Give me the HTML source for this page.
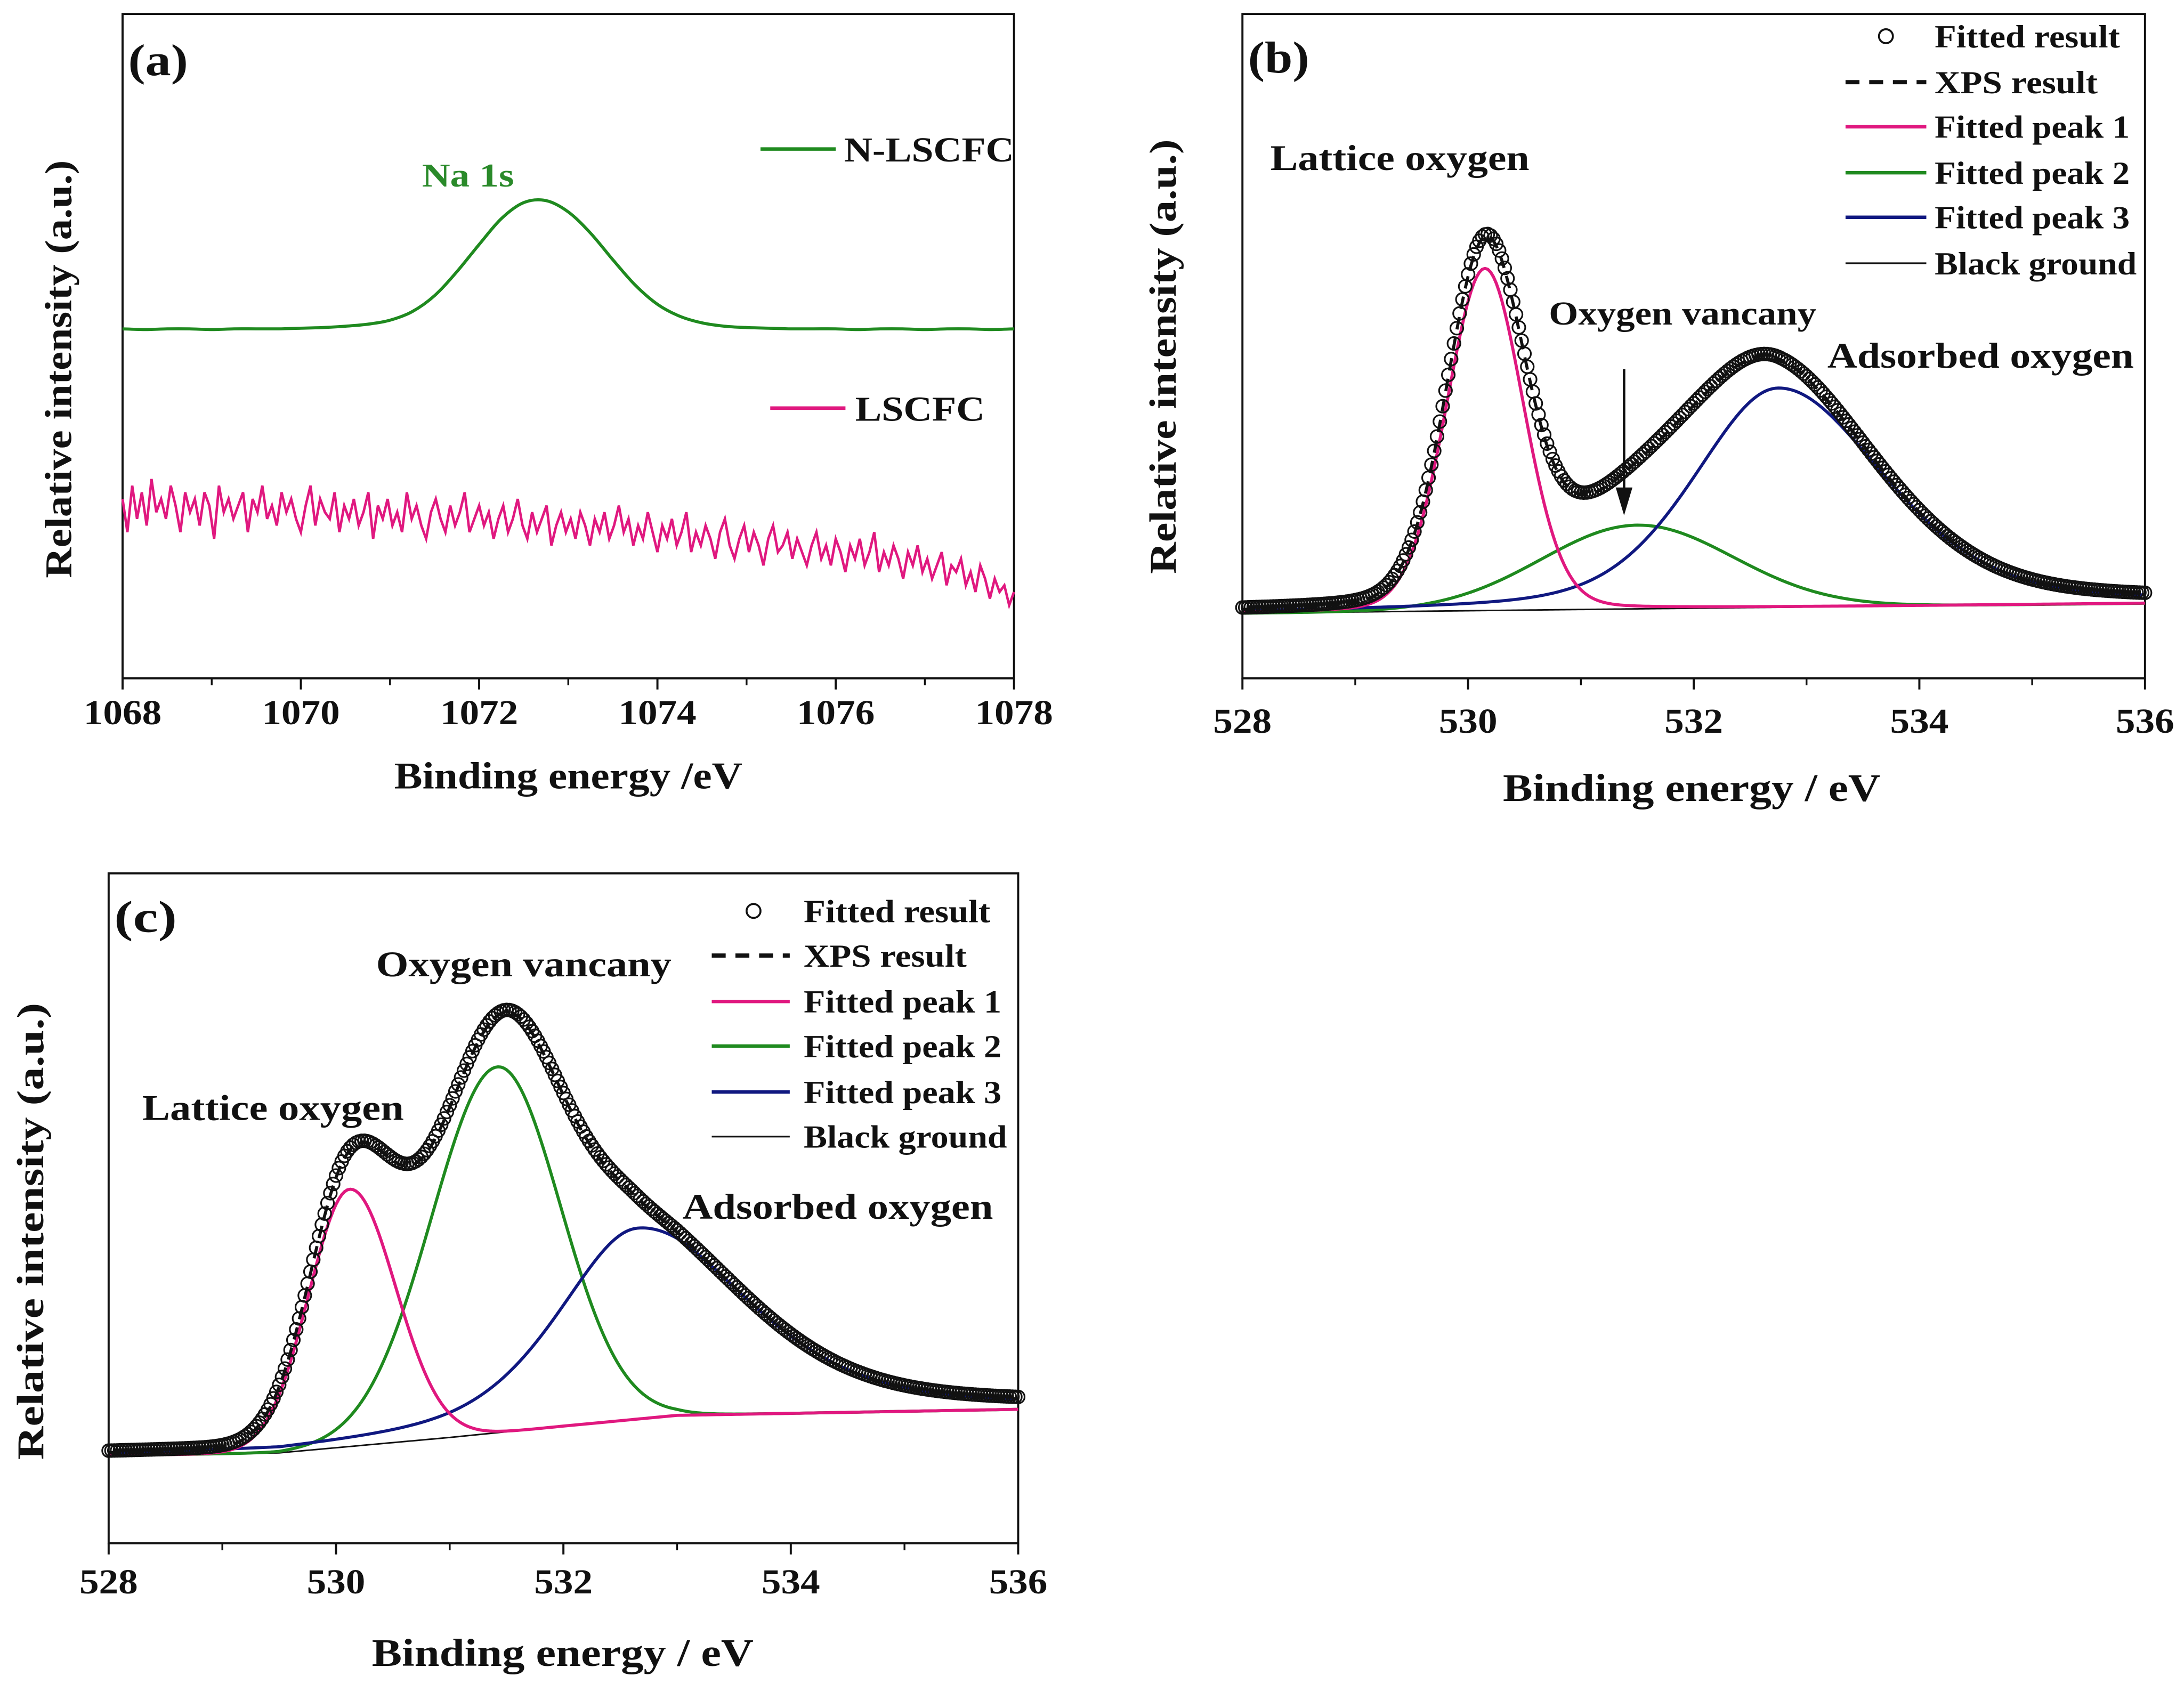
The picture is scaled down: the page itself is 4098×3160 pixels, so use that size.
<!DOCTYPE html>
<html><head><meta charset="utf-8"><style>
html,body{margin:0;padding:0;background:#fff;}
svg{display:block;}
text{font-family:"Liberation Serif",serif;font-weight:bold;fill:#111;}
</style></head><body>
<svg id="fig" width="4098" height="3160" viewBox="0 0 1568 1209" preserveAspectRatio="none">
<rect x="0" y="0" width="1568" height="1209" fill="#fff"/>
<!-- Panel a -->
<g>
<rect x="88" y="10" width="640" height="477" fill="none" stroke="#111" stroke-width="1.5"/>
<text x="92" y="54" font-size="32" textLength="43" lengthAdjust="spacingAndGlyphs">(a)</text>
<text x="303" y="134" font-size="24" textLength="66" lengthAdjust="spacingAndGlyphs" style="fill:#2a8a2a">Na 1s</text>
<line x1="546" y1="107" x2="600" y2="107" stroke="#1f8a1f" stroke-width="2.5"/>
<text x="606" y="116" font-size="25" textLength="122" lengthAdjust="spacingAndGlyphs">N-LSCFC</text>
<line x1="553" y1="293" x2="607" y2="293" stroke="#e0187f" stroke-width="2.5"/>
<text x="614" y="302" font-size="25" textLength="93" lengthAdjust="spacingAndGlyphs">LSCFC</text>
<text x="283" y="566" font-size="27" textLength="250" lengthAdjust="spacingAndGlyphs">Binding energy /eV</text>
<text transform="translate(51,415) rotate(-90)" font-size="27" textLength="300" lengthAdjust="spacingAndGlyphs">Relative intensity (a.u.)</text>
<g id="plotA"></g>
</g>
<!-- Panel b -->
<g>
<rect x="892" y="10" width="648" height="477" fill="none" stroke="#111" stroke-width="1.5"/>
<text x="896" y="52" font-size="32" textLength="44" lengthAdjust="spacingAndGlyphs">(b)</text>
<text x="912" y="122" font-size="26" textLength="186" lengthAdjust="spacingAndGlyphs">Lattice oxygen</text>
<text x="1112" y="233" font-size="24" textLength="192" lengthAdjust="spacingAndGlyphs">Oxygen vancany</text>
<text x="1312" y="264" font-size="26" textLength="220" lengthAdjust="spacingAndGlyphs">Adsorbed oxygen</text>
<line x1="1166" y1="265" x2="1166" y2="352" stroke="#111" stroke-width="1.8"/>
<polygon points="1160,350 1172,350 1166,370" fill="#111"/>
<text x="1079" y="575" font-size="28" textLength="271" lengthAdjust="spacingAndGlyphs">Binding energy / eV</text>
<text transform="translate(844,412) rotate(-90)" font-size="27" textLength="312" lengthAdjust="spacingAndGlyphs">Relative intensity (a.u.)</text>
<g id="plotB"></g>
<g>
<circle cx="1354" cy="26" r="5" fill="#fff" stroke="#111" stroke-width="1.4"/>
<text x="1389" y="34" font-size="23" textLength="133" lengthAdjust="spacingAndGlyphs">Fitted result</text>
<line x1="1325" y1="59" x2="1383" y2="59" stroke="#111" stroke-width="3" stroke-dasharray="10,7"/>
<text x="1389" y="67" font-size="23" textLength="117" lengthAdjust="spacingAndGlyphs">XPS result</text>
<line x1="1325" y1="91" x2="1383" y2="91" stroke="#e0187f" stroke-width="2.5"/>
<text x="1389" y="99" font-size="23" textLength="140" lengthAdjust="spacingAndGlyphs">Fitted peak 1</text>
<line x1="1325" y1="124" x2="1383" y2="124" stroke="#1f8a1f" stroke-width="2.5"/>
<text x="1389" y="132" font-size="23" textLength="140" lengthAdjust="spacingAndGlyphs">Fitted peak 2</text>
<line x1="1325" y1="156" x2="1383" y2="156" stroke="#101880" stroke-width="2.5"/>
<text x="1389" y="164" font-size="23" textLength="140" lengthAdjust="spacingAndGlyphs">Fitted peak 3</text>
<line x1="1325" y1="189" x2="1383" y2="189" stroke="#111" stroke-width="1.2"/>
<text x="1389" y="197" font-size="23" textLength="145" lengthAdjust="spacingAndGlyphs">Black ground</text>
</g>
</g>
<!-- Panel c -->
<g>
<rect x="78" y="627" width="653" height="481" fill="none" stroke="#111" stroke-width="1.5"/>
<text x="82" y="669" font-size="32" textLength="45" lengthAdjust="spacingAndGlyphs">(c)</text>
<text x="270" y="701" font-size="26" textLength="212" lengthAdjust="spacingAndGlyphs">Oxygen vancany</text>
<text x="102" y="804" font-size="26" textLength="188" lengthAdjust="spacingAndGlyphs">Lattice oxygen</text>
<text x="490" y="875" font-size="26" textLength="223" lengthAdjust="spacingAndGlyphs">Adsorbed oxygen</text>
<text x="267" y="1196" font-size="28" textLength="274" lengthAdjust="spacingAndGlyphs">Binding energy / eV</text>
<text transform="translate(31,1048) rotate(-90)" font-size="27" textLength="328" lengthAdjust="spacingAndGlyphs">Relative intensity (a.u.)</text>
<g id="plotC"></g>
<g>
<circle cx="541" cy="654" r="5" fill="#fff" stroke="#111" stroke-width="1.4"/>
<text x="577" y="662" font-size="23" textLength="134" lengthAdjust="spacingAndGlyphs">Fitted result</text>
<line x1="511" y1="686" x2="567" y2="686" stroke="#111" stroke-width="3" stroke-dasharray="10,7"/>
<text x="577" y="694" font-size="23" textLength="117" lengthAdjust="spacingAndGlyphs">XPS result</text>
<line x1="511" y1="719" x2="567" y2="719" stroke="#e0187f" stroke-width="2.5"/>
<text x="577" y="727" font-size="23" textLength="142" lengthAdjust="spacingAndGlyphs">Fitted peak 1</text>
<line x1="511" y1="751" x2="567" y2="751" stroke="#1f8a1f" stroke-width="2.5"/>
<text x="577" y="759" font-size="23" textLength="142" lengthAdjust="spacingAndGlyphs">Fitted peak 2</text>
<line x1="511" y1="784" x2="567" y2="784" stroke="#101880" stroke-width="2.5"/>
<text x="577" y="792" font-size="23" textLength="142" lengthAdjust="spacingAndGlyphs">Fitted peak 3</text>
<line x1="511" y1="816" x2="567" y2="816" stroke="#111" stroke-width="1.2"/>
<text x="577" y="824" font-size="23" textLength="146" lengthAdjust="spacingAndGlyphs">Black ground</text>
</g>
</g>
</svg>
<script>
// ---- Panel a data ----
const aTicks = [1068, 1070, 1072, 1074, 1076, 1078];
const aGreen = [52.6,52.5,52.6,52.6,52.5,52.6,52.6,52.6,52.7,52.8,53.0,53.3,53.9,55.2,57.6,61.2,65.3,69.2,71.6,71.9,70.2,67.0,63.0,59.2,56.3,54.5,53.5,53.0,52.8,52.7,52.6,52.6,52.6,52.5,52.6,52.6,52.5,52.6,52.6,52.5,52.6];
const aPink = [27,22,29,24,28,23,30,25,27,24,29,26,22,28,25,27,23,28,26,21,29,25,27,24,26,28,22,27,25,29,24,26,23,28,25,27,24,22,26,29,23,27,25,24,28,22,26,24,27,23,25,28,21,26,24,27,23,25,22,28,24,26,23,21,25,27,24,22,26,23,25,28,22,24,26,23,25,21,24,26,22,24,27,23,21,25,22,24,26,20,23,25,22,24,21,25,23,20,24,22,25,21,23,26,22,24,20,23,21,25,22,19,23,21,24,20,22,25,19,22,20,23,21,18,22,24,20,18,21,23,19,22,20,17,21,23,19,20,22,18,21,19,17,20,22,18,20,17,21,19,16,20,18,21,17,19,22,16,19,17,20,18,15,19,17,20,16,18,15,17,19,14,17,16,18,14,16,13,17,15,12,15,13,14,11,13];
// ---- Panel b data ----
const bTicks = [528, 530, 532, 534, 536];
const bCenters = [530.15, 531.5, 532.75];
const bHeights = [51.5, 12.6, 33];
const bWidths = [0.34, 0.85, 0.75];
const bEta = [0.1, 0, 0.35];
const bAsym = [1.0, 1.0, 1.25];
const bBgX = [528, 536];
const bBgY = [9.8, 11.3];
// ---- Panel c data ----
const cTicks = [528, 530, 532, 534, 536];
const cCenters = [530.12, 531.42, 532.65];
const cHeights = [38.4, 54.6, 28.5];
const cWidths = [0.36, 0.58, 0.7];
const cEta = [0, 0, 0.5];
const cAsym = [1.12, 0.95, 1.4];
const cBgX = [528, 529.5, 531, 532, 533, 536];
const cBgY = [13.1, 13.5, 15.8, 17.5, 19.1, 20];

const NS = 'http://www.w3.org/2000/svg';
function mk(tag, attrs, parent) {
  const e = document.createElementNS(NS, tag);
  for (const k in attrs) e.setAttribute(k, attrs[k]);
  parent.appendChild(e);
  return e;
}
function scales(x0, x1, top, bot, xmin, xmax) {
  return {
    sx: v => x0 + (v - xmin) / (xmax - xmin) * (x1 - x0),
    sy: v => bot - v / 100 * (bot - top)
  };
}
function drawTicks(g, ticks, S, bot, labelY, prefix) {
  for (let i = 0; i < ticks.length; i++) {
    const x = S.sx(ticks[i]);
    const t = mk('line', {x1: x, y1: bot, x2: x, y2: bot + 8, stroke: '#111', 'stroke-width': 1.5}, g);
    
    
    const s = String(ticks[i]);
    const w = s.length * 14;
    const lb = mk('text', {x: x - w / 2, y: labelY, 'font-size': 25, textLength: w, lengthAdjust: 'spacingAndGlyphs'}, g);
    lb.textContent = s;
    
    
    if (i < ticks.length - 1) {
      const xm = S.sx((ticks[i] + ticks[i + 1]) / 2);
      const m = mk('line', {x1: xm, y1: bot, x2: xm, y2: bot + 5, stroke: '#111', 'stroke-width': 1.3}, g);
      
      
    }
  }
}
function pathFrom(xs, ys, S) {
  let d = '';
  for (let i = 0; i < xs.length; i++) d += (i ? 'L' : 'M') + S.sx(xs[i]).toFixed(2) + ',' + S.sy(ys[i]).toFixed(2);
  return d;
}
function smoothPath(xs, ys, S) {
  const P = xs.map((x, i) => [S.sx(x), S.sy(ys[i])]);
  let d = 'M' + P[0][0].toFixed(2) + ',' + P[0][1].toFixed(2);
  for (let i = 0; i < P.length - 1; i++) {
    const p0 = P[Math.max(0, i - 1)], p1 = P[i], p2 = P[i + 1], p3 = P[Math.min(P.length - 1, i + 2)];
    const c1 = [p1[0] + (p2[0] - p0[0]) / 6, p1[1] + (p2[1] - p0[1]) / 6];
    const c2 = [p2[0] - (p3[0] - p1[0]) / 6, p2[1] - (p3[1] - p1[1]) / 6];
    d += 'C' + c1[0].toFixed(2) + ',' + c1[1].toFixed(2) + ' ' + c2[0].toFixed(2) + ',' + c2[1].toFixed(2) + ' ' + p2[0].toFixed(2) + ',' + p2[1].toFixed(2);
  }
  return d;
}
function pv(x, c, h, s, eta, asym) {
  const sg = x > c ? s * asym : s;
  const d = x - c;
  const g = Math.exp(-d * d / (2 * sg * sg));
  const gam = sg * 1.1774;
  const l = 1 / (1 + (d / gam) * (d / gam));
  return h * ((1 - eta) * g + eta * l);
}
function interp(x, xs, ys) {
  if (x <= xs[0]) return ys[0];
  for (let i = 1; i < xs.length; i++) {
    if (x <= xs[i]) { const t = (x - xs[i - 1]) / (xs[i] - xs[i - 1]); return ys[i - 1] + t * (ys[i] - ys[i - 1]); }
  }
  return ys[ys.length - 1];
}

// ---- Panel a ----
(function () {
  const g = document.getElementById('plotA');
  const S = scales(88, 728, 10, 487, 1068, 1078);
  drawTicks(g, aTicks, S, 487, 520, 'panel-a-x');
  const gx = aGreen.map((v, i) => 1068 + i * 10 / (aGreen.length - 1));
  const gp = mk('path', {d: smoothPath(gx, aGreen, S), fill: 'none', stroke: '#1f8a1f', 'stroke-width': 2.2}, g);
  
  
  const px = aPink.map((v, i) => 1068 + i * 10 / (aPink.length - 1));
  const pp = mk('path', {d: pathFrom(px, aPink, S), fill: 'none', stroke: '#e0187f', 'stroke-width': 1.8}, g);
  
  
})();

function drawFit(gid, box, ticks, centers, heights, widths, eta, asym, bgX, bgY, prefix, labelY) {
  const g = document.getElementById(gid);
  const S = scales(box[0], box[1], box[2], box[3], 528, 536);
  drawTicks(g, ticks, S, box[3], labelY, prefix + '-x');
  const xs = [];
  for (let x = 528; x <= 536.0001; x += 0.025) xs.push(x);
  const bg = xs.map(x => interp(x, bgX, bgY));
  const comps = centers.map((c, k) => xs.map(x => pv(x, c, heights[k], widths[k], eta[k], asym[k])));
  const sum = xs.map((x, i) => bg[i] + comps[0][i] + comps[1][i] + comps[2][i]);
  const bgl = mk('path', {d: pathFrom(xs, bg, S), fill: 'none', stroke: '#111', 'stroke-width': 1.1}, g);
  
  
  const order = [1, 2, 0];
  const names = ['peak-1', 'peak-2', 'peak-3'];
  const colMap = {0: '#e0187f', 1: '#1f8a1f', 2: '#101880'};
  order.forEach(k => {
    const ys = xs.map((x, i) => bg[i] + comps[k][i]);
    const p = mk('path', {d: pathFrom(xs, ys, S), fill: 'none', stroke: colMap[k], 'stroke-width': 2.2}, g);
    
    
  });
  for (let i = 0; i < xs.length; i++) {
    const c = mk('circle', {cx: S.sx(xs[i]).toFixed(2), cy: S.sy(sum[i] + 0.3).toFixed(2), r: 4.6, fill: 'none', stroke: '#111', 'stroke-width': 1.2}, g);
    
    
  }
  const dl = mk('path', {d: pathFrom(xs, sum, S), fill: 'none', stroke: '#111', 'stroke-width': 2.2, 'stroke-dasharray': '9,6'}, g);
  
  
}
drawFit('plotB', [892, 1540, 10, 487], bTicks, bCenters, bHeights, bWidths, bEta, bAsym, bBgX, bBgY, 'panel-b', 526);
drawFit('plotC', [78, 731, 627, 1108], cTicks, cCenters, cHeights, cWidths, cEta, cAsym, cBgX, cBgY, 'panel-c', 1144);
</script>
</body></html>
